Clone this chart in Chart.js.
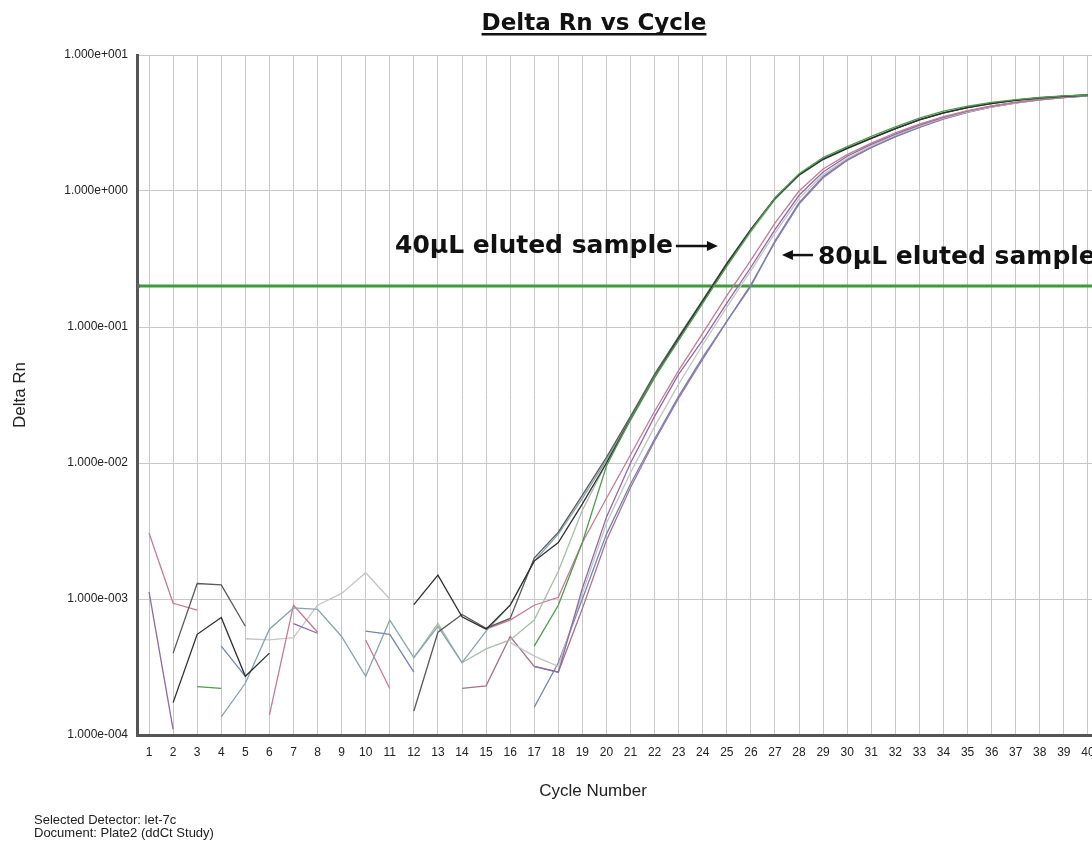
<!DOCTYPE html>
<html>
<head>
<meta charset="utf-8">
<title>Delta Rn vs Cycle</title>
<script src="https://cdn.jsdelivr.net/npm/chart.js"></script>
<style>
  html, body { margin: 0; padding: 0; background: #fff; overflow: hidden; }
  #wrap { position: absolute; left: 0; top: 0; width: 1120px; height: 842px; }
  #info {
    position: absolute; left: 34px; top: 813px;
    font: 13px "Liberation Sans", Arial, sans-serif; line-height: 13px; color: #222;
  }
</style>
</head>
<body>
<div id="wrap"><canvas id="chart"></canvas></div>
<div id="info">Selected Detector: let-7c<br>Document: Plate2 (ddCt Study)</div>

<script>
// ---- data ----
const cycles = Array.from({ length: 40 }, (_, i) => i + 1);
const yTickValues = [1e-4, 1e-3, 1e-2, 1e-1, 1, 10];
const thresholdValue = 0.2;

// 40 uL eluted wells
const wellA = [null, 4.0e-4, 1.3e-3, 1.27e-3, 6.3e-4, null, null, null, null, null, null, 1.5e-4, 5.7e-4, 7.7e-4, 6.1e-4, 7.2e-4,
  2.0e-3, 3.1e-3, 5.8e-3, 1.1e-2, 2.2e-2, 4.5e-2, 8.5e-2, 0.158, 0.295, 0.525, 0.89, 1.32, 1.72, 2.07, 2.45, 2.88, 3.35, 3.76, 4.12, 4.42, 4.66, 4.85, 4.99, 5.1];
const wellB = [null, 1.73e-4, 5.5e-4, 7.3e-4, 2.7e-4, 4.0e-4, null, null, null, null, null, 9.1e-4, 1.5e-3, 7.4e-4, 6.0e-4, 9.0e-4,
  1.9e-3, 2.6e-3, 5.0e-3, 1.0e-2, 2.1e-2, 4.3e-2, 8.3e-2, 0.155, 0.29, 0.52, 0.88, 1.31, 1.71, 2.06, 2.44, 2.87, 3.34, 3.75, 4.1, 4.4, 4.64, 4.83, 4.97, 5.06];
const wellC = [null, null, 2.27e-4, 2.2e-4, null, null, null, null, null, null, null, null, null, null, null, null,
  4.5e-4, 9.0e-4, 2.6e-3, 9.5e-3, 2.1e-2, 4.3e-2, 8.0e-2, 0.15, 0.28, 0.51, 0.89, 1.34, 1.76, 2.12, 2.52, 2.96, 3.44, 3.86, 4.2, 4.48, 4.7, 4.87, 5.0, 5.08];
const wellD = [null, null, null, null, null, null, null, null, null, null, null, 3.7e-4, 6.6e-4, 3.4e-4, 4.3e-4, 5.0e-4,
  7.0e-4, 1.6e-3, 4.5e-3, 1.0e-2, 2.05e-2, 4.2e-2, 8.0e-2, 0.15, 0.28, 0.50, 0.86, 1.3, 1.7, 2.05, 2.43, 2.86, 3.33, 3.74, 4.1, 4.4, 4.64, 4.83, 4.97, 5.05];
const wellJ = [null, null, null, 1.36e-4, 2.4e-4, 6.0e-4, 8.6e-4, 8.4e-4, 5.3e-4, 2.7e-4, 7.0e-4, 3.7e-4, 6.3e-4, 3.4e-4, 5.8e-4, 9.0e-4,
  1.9e-3, 3.0e-3, 5.5e-3, 1.05e-2, 2.15e-2, 4.4e-2, 8.4e-2, 0.157, 0.292, 0.52, 0.88, 1.31, 1.71, 2.06, 2.44, 2.87, 3.34, 3.75, 4.11, 4.41, 4.65, 4.84, 4.98, 5.08];

// 80 uL eluted wells
const wellE = [3.06e-3, 9.3e-4, 8.3e-4, null, null, 1.4e-4, 9.0e-4, 5.7e-4, null, 5.0e-4, 2.2e-4, null, null, null, 6.0e-4, 7.0e-4,
  9.0e-4, 1.03e-3, 2.6e-3, 5.5e-3, 1.15e-2, 2.4e-2, 4.8e-2, 9.0e-2, 0.17, 0.31, 0.58, 1.0, 1.45, 1.85, 2.25, 2.68, 3.1, 3.52, 3.9, 4.22, 4.5, 4.72, 4.9, 5.05];
const wellF = [1.13e-3, 1.1e-4, null, null, null, null, 6.6e-4, 5.6e-4, null, null, null, null, null, null, null, null,
  3.2e-4, 2.9e-4, 1.2e-3, 4.0e-3, 1.0e-2, 2.2e-2, 4.5e-2, 8.0e-2, 0.15, 0.275, 0.52, 0.93, 1.38, 1.8, 2.2, 2.62, 3.05, 3.48, 3.86, 4.2, 4.48, 4.7, 4.89, 5.05];
const wellG = [null, null, null, 4.5e-4, 2.7e-4, null, null, null, null, 5.8e-4, 5.5e-4, 2.9e-4, null, null, null, null,
  1.6e-4, 3.4e-4, 1.0e-3, 3.0e-3, 7.0e-3, 1.5e-2, 3.1e-2, 6.0e-2, 0.11, 0.2, 0.43, 0.82, 1.28, 1.7, 2.1, 2.52, 2.95, 3.4, 3.8, 4.15, 4.45, 4.68, 4.87, 5.0];
const wellH = [null, null, null, null, null, null, null, null, null, null, null, null, null, 2.2e-4, 2.3e-4, 5.3e-4,
  3.2e-4, 2.9e-4, 8.5e-4, 2.7e-3, 6.6e-3, 1.45e-2, 3.0e-2, 5.8e-2, 0.11, 0.205, 0.42, 0.8, 1.25, 1.68, 2.08, 2.5, 2.93, 3.38, 3.78, 4.13, 4.43, 4.67, 4.86, 5.0];
const wellI = [null, null, null, null, 5.1e-4, 5.0e-4, 5.2e-4, 9.0e-4, 1.1e-3, 1.56e-3, 1.0e-3, null, null, null, null, 4.8e-4,
  3.8e-4, 3.2e-4, 1.1e-3, 3.6e-3, 8.5e-3, 1.85e-2, 3.8e-2, 7.4e-2, 0.14, 0.26, 0.49, 0.88, 1.32, 1.74, 2.15, 2.58, 3.0, 3.43, 3.82, 4.16, 4.45, 4.69, 4.88, 5.05];

const wells = [wellC, wellB, wellA, wellJ, wellD, wellE, wellF, wellI, wellG, wellH];
const wellColors = ["#4f9a4f", "#2e2e2e", "#5a5a5a", "#86a4ab", "#a8bda8", "#c77a95", "#8c6aa6", "#c4c4c4", "#7383b5", "#a5738d"];

// annotation anchors (arrow tips, in data units)
const notes = [
  { text: "40\u00b5L eluted sample", cycle: 24.63, value: 0.394, dir: "right" },
  { text: "80\u00b5L eluted sample", cycle: 27.29, value: 0.338, dir: "left" }
];

// ---- helpers ----
function fmtExp(v) {
  const e = Math.round(Math.log10(v));
  return "1.000e" + (e < 0 ? "-" : "+") + String(Math.abs(e)).padStart(3, "0");
}

function arrow(ctx, x0, x1, y) {
  const dir = Math.sign(x1 - x0);
  ctx.beginPath();
  ctx.moveTo(x0, y);
  ctx.lineTo(x1 - dir * 8, y);
  ctx.lineWidth = 2.5;
  ctx.stroke();
  ctx.beginPath();
  ctx.moveTo(x1, y);
  ctx.lineTo(x1 - dir * 11, y - 5);
  ctx.lineTo(x1 - dir * 11, y + 5);
  ctx.closePath();
  ctx.fill();
}

const overlayText = {
  id: "overlayText",
  afterDraw(chart) {
    const { ctx, scales: { x, y } } = chart;
    ctx.save();
    ctx.fillStyle = "#111";
    ctx.strokeStyle = "#111";

    // title, underlined
    const title = "Delta Rn vs Cycle";
    ctx.font = 'bold 23px "DejaVu Sans", sans-serif';
    ctx.textAlign = "center";
    ctx.textBaseline = "alphabetic";
    ctx.fillText(title, 594, 30);
    const tw = ctx.measureText(title).width;
    ctx.fillRect(594 - tw / 2, 33, tw, 2.5);

    // x axis title
    ctx.font = '17px "Liberation Sans", Arial, sans-serif';
    ctx.fillStyle = "#222";
    ctx.textBaseline = "middle";
    ctx.fillText("Cycle Number", 593, 791);

    // arrows + labels
    ctx.fillStyle = "#111";
    ctx.font = 'bold 25px "DejaVu Sans", sans-serif';
    ctx.textBaseline = "alphabetic";
    notes.forEach(n => {
      const px = x.getPixelForValue(n.cycle);
      const py = y.getPixelForValue(n.value);
      if (n.dir === "right") {
        arrow(ctx, px - 42, px, py);
        ctx.textAlign = "right";
        ctx.fillText(n.text, px - 45, py + 7);
      } else {
        arrow(ctx, px + 31, px, py);
        ctx.textAlign = "left";
        ctx.fillText(n.text, px + 36, py + 9);
      }
    });
    ctx.restore();
  }
};

// ---- chart ----
Chart.defaults.font.family = '"Liberation Sans", Arial, sans-serif';
Chart.defaults.color = "#222";

const datasets = wells.map((vals, i) => ({
  data: cycles.map((c, k) => ({ x: c, y: vals[k] })),
  borderColor: wellColors[i],
  borderWidth: 1.3,
  pointRadius: 0,
  tension: 0,
  spanGaps: false
}));

datasets.push({
  data: [{ x: 0.5, y: thresholdValue }, { x: 41, y: thresholdValue }],
  borderColor: "#3d9a3d",
  borderWidth: 3,
  pointRadius: ctx => (ctx.dataIndex === 0 ? 3 : 0),
  pointBackgroundColor: "#666",
  pointBorderWidth: 0
});

new Chart(document.getElementById("chart"), {
  type: "line",
  data: { datasets },
  options: {
    responsive: true,
    maintainAspectRatio: false,
    animation: false,
    events: [],
    layout: { padding: { top: 55, right: 8, left: 0, bottom: 0 } },
    plugins: { legend: { display: false }, tooltip: { enabled: false } },
    scales: {
      x: {
        type: "linear",
        min: 0.5,
        max: 41,
        afterBuildTicks: s => { s.ticks = cycles.map(v => ({ value: v })); },
        afterFit: s => { s.height = 107; },
        grid: { color: "#c8c8c8", lineWidth: 1, drawTicks: false },
        border: { color: "#555", width: 3 },
        ticks: { font: { size: 12 }, color: "#222", padding: 10, maxRotation: 0, autoSkip: false }
      },
      y: {
        type: "logarithmic",
        min: 1e-4,
        max: 10,
        afterBuildTicks: s => { s.ticks = yTickValues.map(v => ({ value: v })); },
        afterFit: s => { s.width = 137; },
        grid: { color: "#c8c8c8", lineWidth: 1, drawTicks: false },
        border: { color: "#555", width: 3 },
        ticks: { font: { size: 12 }, color: "#222", padding: 9, callback: v => fmtExp(v) },
        title: { display: true, text: "Delta Rn", font: { size: 17 }, color: "#222", padding: { top: 10, bottom: 0 } }
      }
    }
  },
  plugins: [overlayText]
});
</script>
</body>
</html>
